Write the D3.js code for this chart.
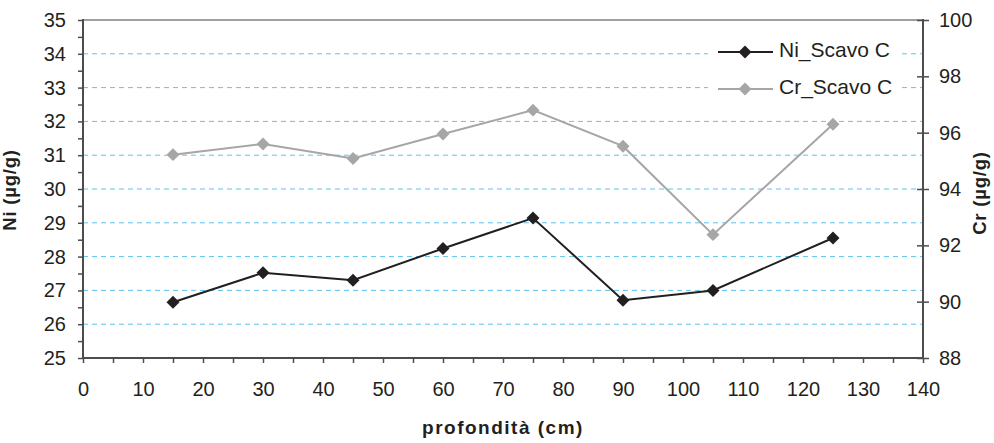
<!DOCTYPE html>
<html>
<head>
<meta charset="utf-8">
<script src="https://cdn.jsdelivr.net/npm/d3@7/dist/d3.min.js"></script>
<style>
  html, body { margin: 0; padding: 0; background: #fff; }
  svg { display: block; font-family: "Liberation Sans", Arial, sans-serif; }
</style>
</head>
<body>
<svg id="chart" width="994" height="443"></svg>
<script>
// Depth (cm) of each sample
const depths = [15, 30, 45, 60, 75, 90, 105, 125];
// Nickel concentration, µg/g (left axis)
const niValues = [26.65, 27.52, 27.30, 28.24, 29.14, 26.71, 27.00, 28.55];
// Chromium concentration, µg/g (right axis)
const crValues = [95.22, 95.60, 95.08, 95.95, 96.80, 95.52, 92.38, 96.30];

const seriesNames = ["Ni_Scavo C", "Cr_Scavo C"];
const xTicks = d3.range(0, 141, 10);
const leftTicks = d3.range(25, 36, 1);
const rightTicks = d3.range(88, 101, 2);

const m = { left: 83, right: 923, top: 20, bottom: 358 };
const ink = "#231f20";
const grey = "#a6a6a6";
const axisCol = "#4d4d4d";

const svg = d3.select("#chart");

const x = d3.scaleLinear().domain([0, 140]).range([m.left, m.right]);
const yL = d3.scaleLinear().domain([25, 35]).range([m.bottom, m.top]);
const yR = d3.scaleLinear().domain([88, 100]).range([m.bottom, m.top]);

// horizontal dashed gridlines at each interior integer of the left scale
svg.append("g").selectAll("line")
  .data(leftTicks.filter(v => v > 25 && v < 35))
  .join("line")
  .attr("x1", m.left).attr("x2", m.right)
  .attr("y1", d => yL(d)).attr("y2", d => yL(d))
  .attr("stroke", "#5fc3f1").attr("stroke-width", 1)
  .attr("stroke-dasharray", "5,4");

// top border of the plot area
svg.append("line")
  .attr("x1", m.left).attr("x2", m.right)
  .attr("y1", m.top).attr("y2", m.top)
  .attr("stroke", "#a0a0a0").attr("stroke-width", 2);

// left axis: major ticks labelled, half-unit ticks unlabelled
const leftAxis = d3.axisLeft(yL)
  .tickValues(d3.range(25, 35.01, 0.5))
  .tickSize(5).tickPadding(12)
  .tickFormat(d => Number.isInteger(d) ? d : "");
const gL = svg.append("g").attr("transform", `translate(${m.left},0)`).call(leftAxis);

// bottom axis
const bottomAxis = d3.axisBottom(x)
  .tickValues(d3.range(0, 141, 5))
  .tickSize(5).tickPadding(19)
  .tickFormat(d => xTicks.includes(d) ? d : "");
const gB = svg.append("g").attr("transform", `translate(0,${m.bottom})`).call(bottomAxis);

// right axis with ticks crossing the line
const rightAxis = d3.axisRight(yR)
  .tickValues(rightTicks)
  .tickSize(6).tickPadding(10);
const gR = svg.append("g").attr("transform", `translate(${m.right},0)`).call(rightAxis);
gR.selectAll(".tick line").attr("x1", -6);

[gL, gB, gR].forEach(g => {
  g.select(".domain").remove();
  g.selectAll(".tick line").attr("stroke", axisCol).attr("stroke-width", 1.5);
  g.selectAll(".tick text")
    .attr("fill", ink)
    .style("font-size", "20px")
    .style("font-family", "'Liberation Sans', Arial, sans-serif");
});

// axis lines
svg.append("line").attr("x1", m.left).attr("x2", m.left)
  .attr("y1", m.top - 1).attr("y2", m.bottom + 1)
  .attr("stroke", axisCol).attr("stroke-width", 2);
svg.append("line").attr("x1", m.right).attr("x2", m.right)
  .attr("y1", m.top - 1).attr("y2", m.bottom + 1)
  .attr("stroke", axisCol).attr("stroke-width", 2);
svg.append("line").attr("x1", m.left).attr("x2", m.right)
  .attr("y1", m.bottom).attr("y2", m.bottom)
  .attr("stroke", axisCol).attr("stroke-width", 2);

// series
const diamond = d3.symbol().type(d3.symbolSquare).size(84);

function drawSeries(values, scale, color) {
  const pts = depths.map((d, i) => [x(d), scale(values[i])]);
  svg.append("path")
    .attr("d", d3.line()(pts))
    .attr("fill", "none").attr("stroke", color).attr("stroke-width", 2);
  svg.append("g").selectAll("path")
    .data(pts)
    .join("path")
    .attr("d", diamond)
    .attr("transform", p => `translate(${p[0]},${p[1]}) rotate(45)`)
    .attr("fill", color);
}

drawSeries(crValues, yR, grey);
drawSeries(niValues, yL, ink);

// legend
const lg = svg.append("g");
lg.append("rect").attr("x", 708).attr("y", 30).attr("width", 194).attr("height", 78).attr("fill", "#fff");
const legendRows = [
  { name: seriesNames[0], color: ink, y: 52 },
  { name: seriesNames[1], color: grey, y: 89 }
];
legendRows.forEach(r => {
  lg.append("line").attr("x1", 718).attr("x2", 773).attr("y1", r.y).attr("y2", r.y)
    .attr("stroke", r.color).attr("stroke-width", 2);
  lg.append("path").attr("d", diamond)
    .attr("transform", `translate(745,${r.y}) rotate(45)`)
    .attr("fill", r.color);
  lg.append("text").attr("x", 779).attr("y", r.y + 4.5)
    .attr("fill", ink).style("font-size", "21px")
    .text(r.name);
});

// axis titles
svg.append("text")
  .attr("transform", `translate(16,190) rotate(-90)`)
  .attr("text-anchor", "middle")
  .attr("fill", ink).style("font-size", "18.5px").style("font-weight", "bold")
  .style("letter-spacing", "0.8px")
  .text("Ni (µg/g)");

svg.append("text")
  .attr("transform", `translate(986,193) rotate(-90)`)
  .attr("text-anchor", "middle")
  .attr("fill", ink).style("font-size", "18.5px").style("font-weight", "bold")
  .style("letter-spacing", "0.8px")
  .text("Cr (µg/g)");

svg.append("text")
  .attr("x", 503).attr("y", 434)
  .attr("text-anchor", "middle")
  .attr("fill", ink).style("font-size", "19px").style("font-weight", "bold")
  .style("letter-spacing", "1.5px")
  .text("profondità (cm)");
</script>
</body>
</html>
